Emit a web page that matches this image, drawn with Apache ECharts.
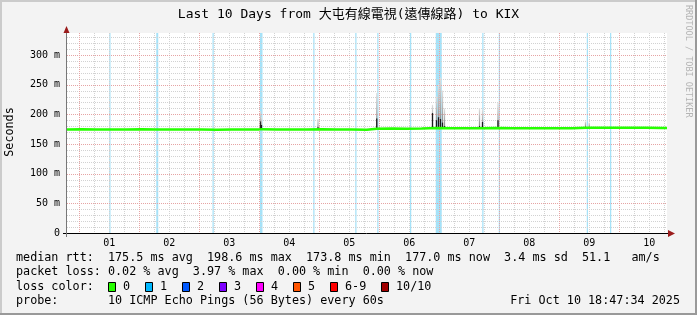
<!DOCTYPE html>
<html><head><meta charset="utf-8">
<script src="https://cdn.jsdelivr.net/npm/echarts@6/dist/echarts.min.js"></script>
<style>html,body{margin:0;padding:0;background:#f3f3f3}#c{width:697px;height:315px}</style>
</head><body><div id="c"></div>
<script>
// ---- data (hours measured from Oct 1 00:00) ----
const xStart = -4.9, xEnd = 235.1;
const dayLabels = ['01','02','03','04','05','06','07','08','09','10'];
const dayNoonHours = [12,36,60,84,108,132,156,180,204,228];
const yTickValues = [0,50,100,150,200,250,300];
const yTickLabels = ['0','50 m','100 m','150 m','200 m','250 m','300 m'];
const yMax = 337;

// median rtt (ms)
const medianHours = [-5,1,7,13,19,25,31,37,43,49,55,61,67,72,73,79,85,91,97,103,109,115,119,125,131,137,143,149,155,161,167,173,179,185,191,197,203,209,215,221,227,233,235.1];
const medianMs    = [174.5,174.8,174.3,174.6,174.4,174.7,174.2,174.5,174.3,174.6,174.1,174.4,174.2,174.6,175.0,174.6,174.3,174.5,174.8,174.4,174.2,174.0,175.6,176.0,175.8,176.1,177.0,176.5,176.3,176.6,176.8,176.4,176.6,176.5,176.7,176.6,177.2,177.4,177.2,177.5,177.3,177.0,177.0];

// smoke spikes: hour, base, dark core top, light smoke top (ms)
const smokeHours = [72.5,72.9,95.5,119.0,141.3,142.9,143.7,144.5,145.3,146.1,160.1,161.3,167.5,202.5,204.0];
const smokeBase  = [174,174,175,175,176,176,176,176,176,176,176,176,176,177,177];
const smokeCore  = [188,182,178,193,202,190,195,192,186,180,180,187,190,179,178];
const smokeTop   = [205,195,192,236,216,230,250,262,240,210,210,208,220,188,186];

// loss ticks (1/10 lost): start hour, duration hours
const lossStart = [12.0,30.8,53.3,72.3,93.6,110.4,119.2,132.3,142.6,161.2,167.8,203.0,212.3];
const lossDur   = [0.5,0.8,0.5,1.0,0.5,0.5,0.5,0.5,2.4,0.5,0.5,0.5,0.5];

const rttStats  = ['175.5','198.6','173.8','177.0','3.4','51.1'];
const lossStats = ['0.02','3.97','0.00','0.00'];
const lossLabels = ['0','1','2','3','4','5','6-9','10/10'];
const lossColors = ['#26ff00','#00b8ff','#0059ff','#7e00ff','#ff00ff','#ff5500','#ff0000','#a10000'];
const titleText = 'Last 10 Days from 大屯有線電視(遠傳線路) to KIX';
const probeText = 'probe:       10 ICMP Echo Pings (56 Bytes) every 60s';
const dateText = 'Fri Oct 10 18:47:34 2025';

// ---- layout ----
const MONO = "'DejaVu Sans Mono', 'Noto Sans CJK TC', monospace";
const G = {left:67, top:33, width:600, height:200};

const minorX = [], majorX = [];
for (let h = 0; h <= 234; h += 6) (h % 24 === 0 ? majorX : minorX).push(h);
const minorY = [], majorY = [];
for (let v = 10; v < yMax; v += 10) (v % 50 === 0 ? majorY : minorY).push(v);

function gridLines(vals, dim, color) {
  return {
    type:'custom', silent:true, z:3, clip:true,
    data: vals.map(v => dim === 'x' ? [v, 0] : [xStart, v]),
    encode:{x:0, y:1},
    renderItem(params, api) {
      const cs = params.coordSys;
      if (dim === 'x') {
        const x = Math.round(api.coord([api.value(0), 0])[0]) + 0.5;
        return {type:'line', shape:{x1:x, y1:cs.y, x2:x, y2:cs.y + cs.height},
                style:{stroke:color, lineWidth:1, lineDash:[1,1]}};
      }
      const y = Math.round(api.coord([xStart, api.value(1)])[1]) + 0.5;
      return {type:'line', shape:{x1:cs.x, y1:y, x2:cs.x + cs.width, y2:y},
              style:{stroke:color, lineWidth:1, lineDash:[1,1]}};
    }
  };
}

const chart = echarts.init(document.getElementById('c'), null, {renderer:'canvas'});
const legendY = [258, 272, 287, 301];
const boxX = [108,145,182,219,256,293,330,381];
const graphics = [
  {type:'rect', shape:{x:0,y:0,width:697,height:2}, style:{fill:'#cbcbcb'}},
  {type:'rect', shape:{x:0,y:0,width:2,height:315}, style:{fill:'#cbcbcb'}},
  {type:'rect', shape:{x:695,y:0,width:2,height:315}, style:{fill:'#999999'}},
  {type:'rect', shape:{x:0,y:313,width:697,height:2}, style:{fill:'#999999'}},
  {type:'text', x:348.5, y:15, style:{text:titleText, font:'13px '+MONO, fill:'#000', align:'center', verticalAlign:'middle'}},
  {type:'text', x:688, y:5, rotation:-Math.PI/2, style:{text:'RRDTOOL / TOBI OETIKER', font:'8.5px '+MONO, fill:'#b4b4b4', align:'left', verticalAlign:'middle'}},
  {type:'text', x:10, y:132, rotation:Math.PI/2, style:{text:'Seconds', font:'11.75px '+MONO, fill:'#000', align:'center', verticalAlign:'middle'}},
  {type:'text', x:16, y:legendY[0], style:{text:`median rtt:  ${rttStats[0]} ms avg  ${rttStats[1]} ms max  ${rttStats[2]} ms min  ${rttStats[3]} ms now  ${rttStats[4]} ms sd  ${rttStats[5]}   am/s`, font:'11.75px '+MONO, fill:'#000', verticalAlign:'middle'}},
  {type:'text', x:16, y:legendY[1], style:{text:`packet loss: ${lossStats[0]} % avg  ${lossStats[1]} % max  ${lossStats[2]} % min  ${lossStats[3]} % now`, font:'11.75px '+MONO, fill:'#000', verticalAlign:'middle'}},
  {type:'text', x:16, y:legendY[2], style:{text:'loss color:', font:'11.75px '+MONO, fill:'#000', verticalAlign:'middle'}},
  {type:'text', x:16, y:legendY[3], style:{text:probeText, font:'11.75px '+MONO, fill:'#000', verticalAlign:'middle'}},
  {type:'text', x:680, y:legendY[3], style:{text:dateText, font:'11.75px '+MONO, fill:'#000', align:'right', verticalAlign:'middle'}},
  // axis overhang and arrows
  {type:'line', z:50, shape:{x1:63, y1:233.5, x2:670, y2:233.5}, style:{stroke:'#000', lineWidth:1}},
  {type:'line', z:50, shape:{x1:66.5, y1:237, x2:66.5, y2:30}, style:{stroke:'#777', lineWidth:1}},
  {type:'polygon', z:51, shape:{points:[[668,230],[675,233.5],[668,237]]}, style:{fill:'#9b1c1c'}},
  {type:'polygon', z:51, shape:{points:[[63.5,33],[66.5,26],[69.5,33]]}, style:{fill:'#9b1c1c'}}
];
lossLabels.forEach((lab, i) => {
  graphics.push({type:'rect', shape:{x:boxX[i]+0.5, y:legendY[2]-4.5, width:7, height:9}, style:{fill:lossColors[i], stroke:'#000', lineWidth:1}});
  graphics.push({type:'text', x:boxX[i]+15, y:legendY[2], style:{text:lab, font:'11.75px '+MONO, fill:'#000', verticalAlign:'middle'}});
});

chart.setOption({
  animation:false,
  backgroundColor:'#f3f3f3',
  grid:{left:G.left, top:G.top, width:G.width, height:G.height, containLabel:false, outerBoundsMode:'none', backgroundColor:'#fff', show:true, borderWidth:0},
  xAxis:{type:'value', min:xStart, max:xEnd,
    axisLine:{show:false}, axisTick:{show:false}, splitLine:{show:false},
    axisLabel:{customValues:dayNoonHours, formatter:v => dayLabels[dayNoonHours.indexOf(v)], color:'#000', fontFamily:MONO, fontSize:10, margin:5}},
  yAxis:{type:'value', min:0, max:yMax,
    axisLine:{show:false}, axisTick:{show:false}, splitLine:{show:false},
    axisLabel:{customValues:yTickValues, formatter:v => yTickLabels[yTickValues.indexOf(v)], color:'#000', fontFamily:MONO, fontSize:10, margin:7}},
  graphic:graphics,
  series:[
    {type:'custom', silent:true, z:1, clip:true,
      data: lossStart.map((s,i)=>[s, 0, lossDur[i]]), encode:{x:0,y:1},
      renderItem(params, api){
        const cs = params.coordSys;
        const x1 = api.coord([api.value(0),0])[0];
        const x2 = api.coord([api.value(0)+api.value(2),0])[0];
        return {type:'rect', shape:{x:x1, y:cs.y, width:Math.max(1,x2-x1), height:cs.height}, style:{fill:'#a6e2f8'}};
      }},
    gridLines(minorX,'x','#d2d2d2'),
    gridLines(minorY,'y','#d2d2d2'),
    gridLines(majorX,'x','#e6a4a4'),
    gridLines(majorY,'y','#e6a4a4'),
    {type:'custom', silent:true, z:4, clip:true,
      data: smokeHours.map((h,i)=>[h, smokeBase[i], smokeCore[i], smokeTop[i]]), encode:{x:0,y:3},
      renderItem(params, api){
        const h = api.value(0);
        const b = api.coord([h, api.value(1)]);
        const c = api.coord([h, api.value(2)]);
        const t = api.coord([h, api.value(3)]);
        const w = api.size([0.5,0])[0];
        return {type:'group', children:[
          {type:'rect', shape:{x:b[0]-w/2, y:t[1], width:w, height:b[1]-t[1]},
            style:{fill:new echarts.graphic.LinearGradient(0,0,0,1,[{offset:0,color:'#e0e0e0'},{offset:1,color:'#808080'}])}},
          {type:'rect', shape:{x:b[0]-w/2, y:c[1], width:w, height:b[1]-c[1]}, style:{fill:'#1a1a1a'}}
        ]};
      }},
    {type:'line', z:5, showSymbol:false, silent:true,
      data: medianHours.map((h,i)=>[h, medianMs[i]]),
      lineStyle:{color:lossColors[0], width:2.5}}
  ]
});
</script></body></html>
